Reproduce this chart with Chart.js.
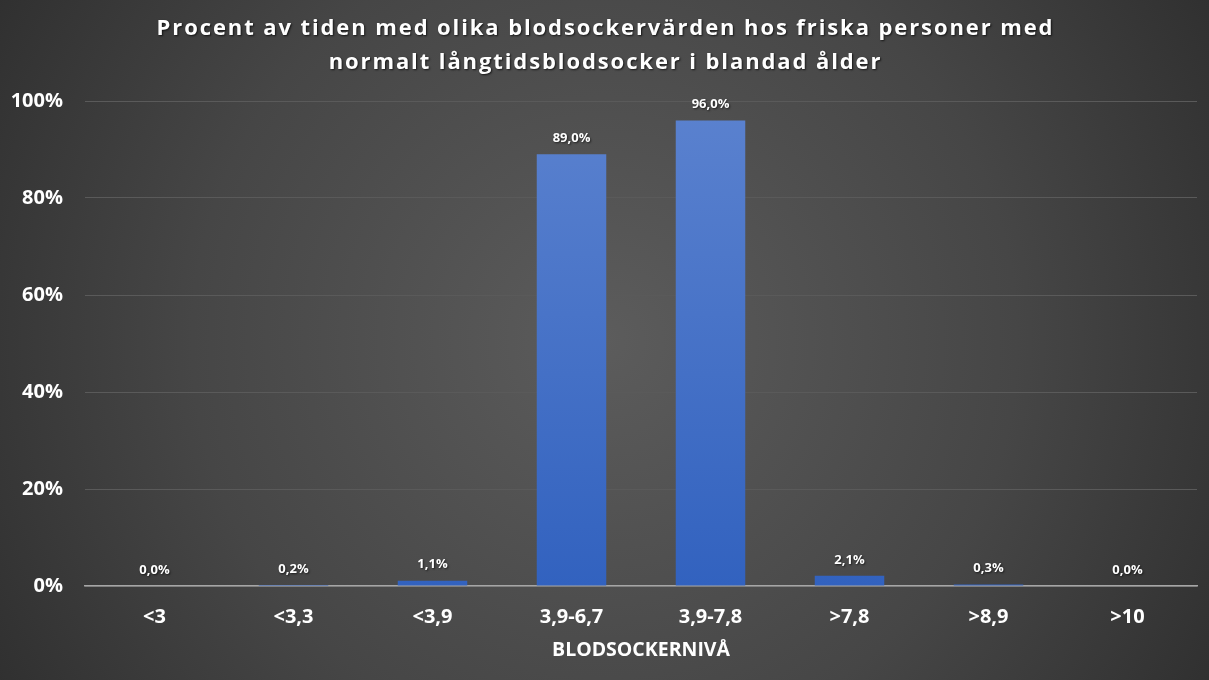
<!DOCTYPE html>
<html>
<head>
<meta charset="utf-8">
<script src="https://cdn.jsdelivr.net/npm/chart.js@4/dist/chart.umd.min.js"></script>
<style>
    html, body { margin: 0; padding: 0; background: #333; }
    #wrap { width: 1209px; height: 680px; position: relative; }
</style>
</head>
<body>
<div id="wrap"><canvas id="chart"></canvas></div>
<script>
// Blodsockernivåer
const categories = ['<3', '<3,3', '<3,9', '3,9-6,7', '3,9-7,8', '>7,8', '>8,9', '>10'];
const percentValues = [0.0, 0.2, 1.1, 89.0, 96.0, 2.1, 0.3, 0.0];
const yTicks = [0, 20, 40, 60, 80, 100];
const titleLines = [
    'Procent av tiden med olika blodsockervärden hos friska personer med',
    'normalt långtidsblodsocker i blandad ålder'
];
const xAxisTitle = 'BLODSOCKERNIVÅ';

function formatPercent(v) {
    return v.toFixed(1).replace('.', ',') + '%';
}

// background with a soft radial glow
const backgroundPlugin = {
    id: 'bg',
    beforeDraw(chart) {
        const ctx = chart.ctx;
        const w = chart.width, h = chart.height;
        const g = ctx.createRadialGradient(w / 2, h / 2, 0, w / 2, h / 2, w * 0.62);
        g.addColorStop(0, '#5c5c5c');
        g.addColorStop(0.55, '#464646');
        g.addColorStop(1, '#2c2c2c');
        ctx.save();
        ctx.fillStyle = g;
        ctx.fillRect(0, 0, w, h);
        ctx.restore();
    }
};

// title drawn with letter spacing
const titlePlugin = {
    id: 'spacedTitle',
    afterDraw(chart) {
        const ctx = chart.ctx;
        ctx.save();
        ctx.font = 'bold 22px "Open Sans", sans-serif';
        ctx.letterSpacing = '1.9px';
        ctx.textAlign = 'center';
        ctx.textBaseline = 'middle';
        ctx.shadowColor = 'rgba(0,0,0,0.7)';
        ctx.shadowOffsetX = 1;
        ctx.shadowOffsetY = 1;
        ctx.shadowBlur = 2;
        ctx.fillStyle = '#ffffff';
        titleLines.forEach((line, i) => {
            ctx.fillText(line, chart.width / 2 + 1, 29 + i * 34);
        });
        ctx.restore();
    }
};

// value labels above the bars
const valueLabelPlugin = {
    id: 'valueLabels',
    afterDatasetsDraw(chart) {
        const ctx = chart.ctx;
        const meta = chart.getDatasetMeta(0);
        ctx.save();
        ctx.font = 'bold 13px "Open Sans", sans-serif';
        ctx.fillStyle = '#ffffff';
        ctx.textAlign = 'center';
        ctx.textBaseline = 'middle';
        ctx.shadowColor = 'rgba(0,0,0,0.6)';
        ctx.shadowOffsetX = 1;
        ctx.shadowOffsetY = 1;
        ctx.shadowBlur = 2;
        meta.data.forEach((bar, i) => {
            ctx.fillText(formatPercent(percentValues[i]), bar.x, bar.y - 16);
        });
        ctx.restore();
    }
};

const ctx = document.getElementById('chart').getContext('2d');
const chart = new Chart(ctx, {
    type: 'bar',
    data: {
        labels: categories,
        datasets: [{
            data: percentValues,
            backgroundColor: function(context) {
                const area = context.chart.chartArea;
                if (!area) return '#4472c4';
                const g = context.chart.ctx.createLinearGradient(0, area.top, 0, area.bottom);
                g.addColorStop(0, '#5b82cf');
                g.addColorStop(1, '#3262bf');
                return g;
            },
            borderWidth: 0,
            barPercentage: 0.5,
            categoryPercentage: 1.0
        }]
    },
    options: {
        responsive: true,
        maintainAspectRatio: false,
        animation: false,
        layout: {
            padding: { top: 101, right: 12, left: 0, bottom: 0 }
        },
        plugins: {
            legend: { display: false },
            title: { display: false },
            tooltip: { enabled: false }
        },
        scales: {
            x: {
                grid: { display: false, drawTicks: false },
                border: { color: '#a6a6a6', width: 1.5 },
                ticks: {
                    color: '#ffffff',
                    font: { family: '"Open Sans", sans-serif', size: 20, weight: 'bold' },
                    padding: 19
                },
                title: {
                    display: true,
                    text: xAxisTitle,
                    color: '#ffffff',
                    font: { family: '"Open Sans", sans-serif', size: 19.5, weight: 'bold' },
                    padding: { top: 0, bottom: 18 }
                },
                afterFit(scale) {
                    scale.height = 94;
                }
            },
            y: {
                min: 0,
                max: 100,
                afterBuildTicks(scale) {
                    scale.ticks = yTicks.map(v => ({ value: v }));
                },
                grid: { color: '#5a5a5a', lineWidth: 1, drawTicks: false },
                border: { display: false },
                ticks: {
                    color: '#ffffff',
                    font: { family: '"Open Sans", sans-serif', size: 20, weight: 'bold' },
                    padding: 22,
                    callback: v => v + '%'
                },
                afterFit(scale) {
                    scale.width = 85;
                }
            }
        }
    },
    plugins: [backgroundPlugin, valueLabelPlugin, titlePlugin]
});
</script>
</body>
</html>
